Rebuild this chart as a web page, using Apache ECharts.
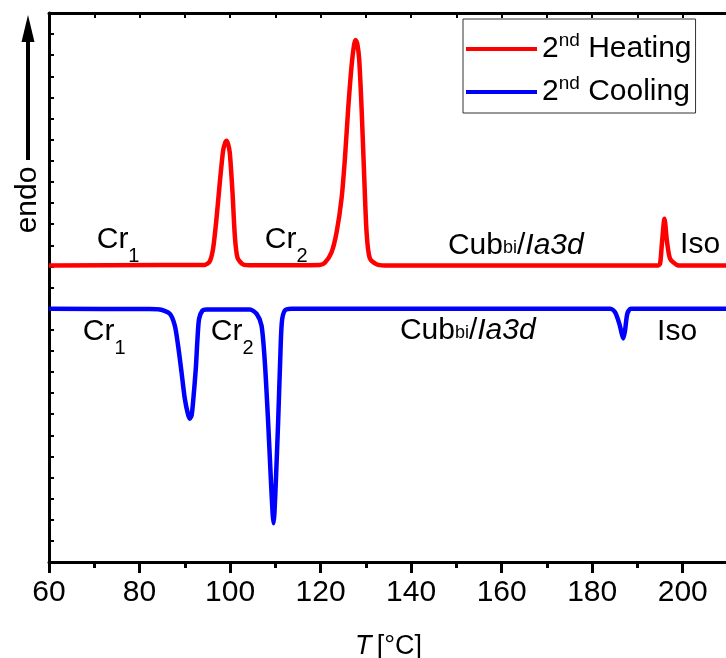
<!DOCTYPE html>
<html>
<head>
<meta charset="utf-8">
<script src="https://cdn.jsdelivr.net/npm/echarts@6/dist/echarts.min.js"></script>
<style>
  html, body { margin: 0; padding: 0; background: #fff; }
  #chart { width: 726px; height: 658px; }
</style>
</head>
<body>
<div id="chart"></div>
<script>
  // 2nd heating: temperature (°C) and heat flow (arb. units, endo up)
  var heatT = [60, 85, 93.0, 94.4, 95.5, 96.25, 97.0, 97.73, 98.46, 98.9, 99.21, 99.55, 99.94, 100.54, 101.05, 101.64, 102.88, 105,
    119.84, 120.94, 122.42, 123.53, 124.63, 125.37, 126.09, 126.84, 127.4, 127.73, 128.1, 128.52, 129.06, 129.63, 130.16, 130.89, 132.72, 135,
    194.5, 195.0, 195.4, 195.97, 196.5, 197.2, 198.7, 200, 210];
  var heatFlow = [14.04, 14.06, 14.06, 14.07, 14.23, 14.84, 16.26, 17.96, 19.48, 19.85, 19.95, 19.8, 19.38, 17.49, 15.46, 14.42, 14.09, 14.05,
    14.07, 14.17, 14.67, 15.61, 17.21, 19.10, 21.46, 23.49, 24.5, 24.72, 24.55, 23.83, 21.46, 18.29, 15.61, 14.37, 14.07, 14.04,
    14.04, 14.13, 15.08, 16.26, 15.22, 14.37, 14.07, 14.04, 14.04];

  // 2nd cooling
  var coolT = [60, 82, 84.47, 86.68, 87.79, 88.51, 89.27, 89.99, 90.7, 91.10, 91.5, 91.83, 92.43, 92.80, 93.16, 93.91, 94.79,
    104.36, 105.84, 106.95, 107.68, 108.41, 109.0, 109.4, 109.60, 109.8, 110.11, 110.62, 111.06, 111.44, 112.10, 113.58,
    184.0, 185.04, 186.0, 186.6, 186.88, 187.26, 187.76, 188.52, 210];
  var coolFlow = [11.99, 11.98, 11.96, 11.76, 11.20, 10.26, 9.00, 7.75, 7.0, 6.79, 6.95, 7.58, 9.16, 10.57, 11.52, 11.91, 11.96,
    11.96, 11.76, 11.20, 9.47, 6.63, 3.97, 2.3, 1.83, 2.3, 3.80, 6.63, 9.47, 11.36, 11.91, 11.99,
    11.99, 11.83, 11.28, 10.75, 10.59, 10.97, 11.76, 11.99, 11.99];

  // phase labels: [T, flow, text]
  var phaseLabels = [
    [70.54, 15.27, '{m|Cr}{s|1}'],
    [107.68, 15.27, '{m|Cr}{s|2}'],
    [148.13, 14.99, '{m|Cub}{b|bi}{m|/}{i|Ia3d}'],
    [199.41, 15.03, '{m|Iso}'],
    [67.45, 10.92, '{m|Cr}{s|1}'],
    [95.74, 10.92, '{m|Cr}{s|2}'],
    [137.52, 10.97, '{m|Cub}{b|bi}{m|/}{i|Ia3d}'],
    [194.33, 10.92, '{m|Iso}']
  ];

  var seriesNames = ['Heating', 'Cooling'];
  var FONT = 'Liberation Sans, Arial, sans-serif';

  function zip(a, b) {
    var out = [];
    for (var i = 0; i < a.length; i++) out.push([a[i], b[i]]);
    return out;
  }

  var chart = echarts.init(document.getElementById('chart'), null, { renderer: 'canvas' });

  var option = {
    animation: false,
    backgroundColor: '#fff',
    grid: { left: 49, right: -2, top: 13, bottom: 96, outerBoundsMode: 'none', containLabel: false },
    legend: {
      data: seriesNames,
      orient: 'vertical',
      left: 463,
      top: 19,
      icon: 'rect',
      itemWidth: 71,
      itemHeight: 4,
      itemGap: 10,
      padding: [12, 4, 6, 3],
      borderColor: '#333',
      borderWidth: 1,
      formatter: function (name) {
        return '{n|2}{s|nd}{n| ' + name + '}';
      },
      textStyle: {
        color: '#000',
        fontFamily: FONT,
        fontSize: 30,
        rich: {
          n: { fontSize: 30, lineHeight: 36, color: '#000', fontFamily: FONT },
          s: { fontSize: 19, lineHeight: 12, verticalAlign: 'top', color: '#000', fontFamily: FONT }
        }
      }
    },
    xAxis: [
      {
        type: 'value',
        position: 'bottom',
        min: 60,
        max: 210,
        interval: 20,
        axisLine: { onZero: false, lineStyle: { color: '#000', width: 3 } },
        axisTick: { inside: false, length: 11, lineStyle: { color: '#000', width: 3 } },
        minorTick: { show: true, splitNumber: 2, length: 6, lineStyle: { color: '#000', width: 3 } },
        axisLabel: { color: '#000', fontSize: 30, fontFamily: FONT, margin: 16, showMaxLabel: false },
        splitLine: { show: false },
        name: '{i|T}{n|\u2009[°C]}',
        nameLocation: 'middle',
        nameGap: 71,
        nameTextStyle: {
          rich: {
            i: { fontSize: 27, fontStyle: 'italic', color: '#000', fontFamily: FONT },
            n: { fontSize: 27, color: '#000', fontFamily: FONT }
          }
        }
      },
      {
        type: 'value',
        position: 'top',
        min: 60,
        max: 210,
        interval: 10,
        axisLine: { onZero: false, lineStyle: { color: '#000', width: 3 } },
        axisTick: { inside: true, length: 5, lineStyle: { color: '#000', width: 2 } },
        axisLabel: { show: false },
        splitLine: { show: false }
      }
    ],
    yAxis: {
      type: 'value',
      min: 0,
      max: 26,
      interval: 1,
      axisLine: { show: true, onZero: false, lineStyle: { color: '#000', width: 3 } },
      axisTick: { show: true, inside: true, length: 5, lineStyle: { color: '#000', width: 2 } },
      axisLabel: { show: false },
      splitLine: { show: false }
    },
    series: [
      {
        name: 'Heating',
        type: 'line',
        data: zip(heatT, heatFlow),
        symbol: 'none',
        showSymbol: false,
        smooth: 0.25,
        lineStyle: { color: '#ff0000', width: 4.5, join: 'round' },
        itemStyle: { color: '#ff0000' }
      },
      {
        name: 'Cooling',
        type: 'line',
        data: zip(coolT, coolFlow),
        symbol: 'none',
        showSymbol: false,
        smooth: 0.25,
        lineStyle: { color: '#0000ff', width: 4.5, join: 'round' },
        itemStyle: { color: '#0000ff' }
      }
    ]
  };

  chart.setOption(option);

  // "endo" arrow on the left + phase labels placed through the axes
  var labelRich = {
    m: { fontSize: 30, lineHeight: 54, fontFamily: FONT, fill: '#000', color: '#000' },
    s: { fontSize: 20, lineHeight: 8, verticalAlign: 'bottom', fontFamily: FONT, fill: '#000', color: '#000' },
    b: { fontSize: 18, lineHeight: 54, verticalAlign: 'middle', padding: [6, 0, 0, 0], fontFamily: FONT, fill: '#000', color: '#000' },
    i: { fontSize: 30, lineHeight: 54, fontStyle: 'italic', fontFamily: FONT, fill: '#000', color: '#000' }
  };

  var graphics = [
    { type: 'line', shape: { x1: 28, y1: 160, x2: 28, y2: 38 }, style: { stroke: '#000', lineWidth: 4 } },
    { type: 'polygon', shape: { points: [[28, 15], [21.5, 42], [34.5, 42]] }, style: { fill: '#000' } },
    {
      type: 'text', x: 28, y: 200, rotation: Math.PI / 2,
      style: { text: 'endo', fontSize: 30, fontFamily: FONT, fill: '#000', align: 'center', verticalAlign: 'middle' }
    }
  ];

  phaseLabels.forEach(function (p) {
    var pt = chart.convertToPixel({ xAxisIndex: 0, yAxisIndex: 0 }, [p[0], p[1]]);
    graphics.push({
      type: 'text',
      x: pt[0],
      y: pt[1],
      z: 10,
      style: {
        text: p[2],
        rich: labelRich,
        fill: '#000',
        align: 'left',
        verticalAlign: 'middle'
      }
    });
  });

  chart.setOption({ graphic: graphics });
</script>
</body>
</html>
